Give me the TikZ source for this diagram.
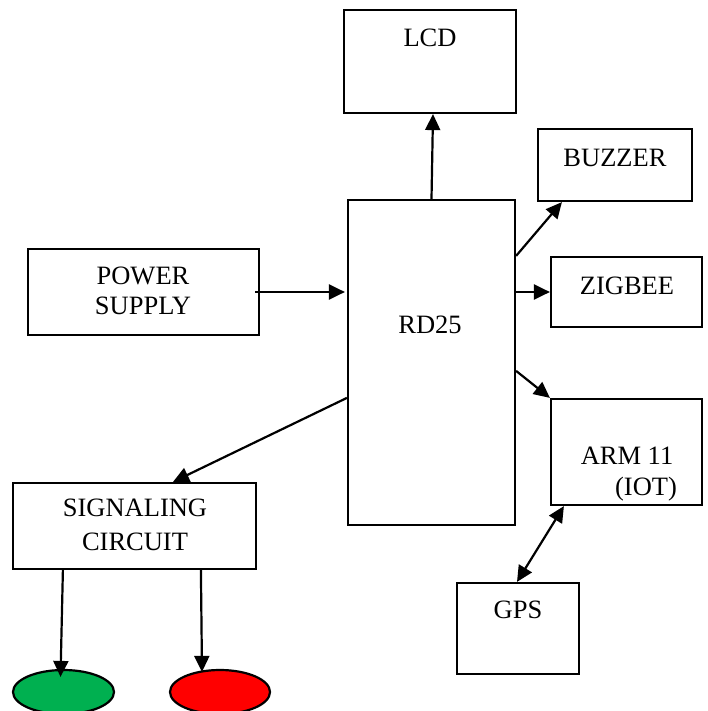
\documentclass[tikz,border=0pt]{standalone}
\usepackage{fontspec}
\setmainfont{Liberation Serif}
\usetikzlibrary{arrows.meta,calc,shapes.geometric}
\begin{document}
\begin{tikzpicture}[x=1pt,y=-1pt,
  box/.style={draw,line width=2.2pt,inner sep=0pt,fill=white},
  lbl/.style={font=\fontsize{26.5}{30}\selectfont,inner sep=0pt},
  conn/.style={line width=2.2pt,-{Triangle[length=16pt,width=15pt]}},
  bconn/.style={line width=2.2pt,{Triangle[length=16pt,width=15pt]}-{Triangle[length=16pt,width=15pt]}},
  lamp/.style={draw,line width=2.2pt,ellipse,inner sep=0pt}]
\useasboundingbox (0,0) rectangle (708,711);
% boxes
\node[box,minimum width=172pt,minimum height=103pt] (lcd) at (430,61.5) {};
\node[box,minimum width=154pt,minimum height=72pt] (bz) at (615,165) {};
\node[box,minimum width=151pt,minimum height=70pt] (zb) at (626.5,292) {};
\node[box,minimum width=151pt,minimum height=106pt] (arm) at (626.5,452) {};
\node[box,minimum width=167pt,minimum height=325pt] (rd) at (431.5,362.5) {};
\node[box,minimum width=231pt,minimum height=86pt] (pw) at (143.5,292) {};
\node[box,minimum width=243pt,minimum height=86pt] (sig) at (134.5,526) {};
\node[box,minimum width=122pt,minimum height=91pt] (gps) at (518,628.5) {};
\node[lamp,fill={rgb,255:red,0;green,176;blue,80},minimum width=101pt,minimum height=44pt] (g) at (63.5,692) {};
\node[lamp,fill={rgb,255:red,255;green,0;blue,0},minimum width=100pt,minimum height=44pt] (r) at (220,692) {};
% labels
\node[lbl] (tlcd) at (430,38) {LCD};
\node[lbl] (tbz) at (615,158) {BUZZER};
\node[lbl] (tzb) at (627,286) {ZIGBEE};
\node[lbl] (tarm) at (627,456) {ARM 11};
\node[lbl] (tiot) at (646,489) {(IOT)};
\node[lbl] (trd) at (430,325) {RD25};
\node[lbl] (tpw1) at (143,276) {POWER};
\node[lbl] (tpw2) at (143,306) {SUPPLY};
\node[lbl] (tsig1) at (135,508) {SIGNALING};
\node[lbl] (tsig2) at (135,542) {CIRCUIT};
\node[lbl] (tgps) at (518,610) {GPS};
% connectors
\draw[conn] (rd.north) -- ($(lcd.south)+(3,0)$);
\draw[conn] ($(pw.east)+(-5,0)$) -- ($(pw.east -| rd.west)+(-2,0)$);
\draw[conn] ($(rd.north east)+(0,57)$) -- ($(bz.south west)+(25,0)$);
\draw[conn] (zb.west -| rd.east) -- (zb.west);
\draw[conn] ($(rd.north east)+(0,172)$) -- (arm.north west);
\draw[conn] ($(rd.north west)+(0,199)$) -- ($(sig.north)+(38.5,0)$);
\draw[conn] ($(sig.south west)+(51,0)$) -- ($(g.north)+(-3,8)$);
\draw[conn] ($(sig.south west)+(189,0)$) -- ($(r.north)+(-18,3)$);
\draw[bconn] ($(gps.north)+(-1,0)$) -- ($(arm.south west)+(14,0)$);
\end{tikzpicture}
\end{document}
